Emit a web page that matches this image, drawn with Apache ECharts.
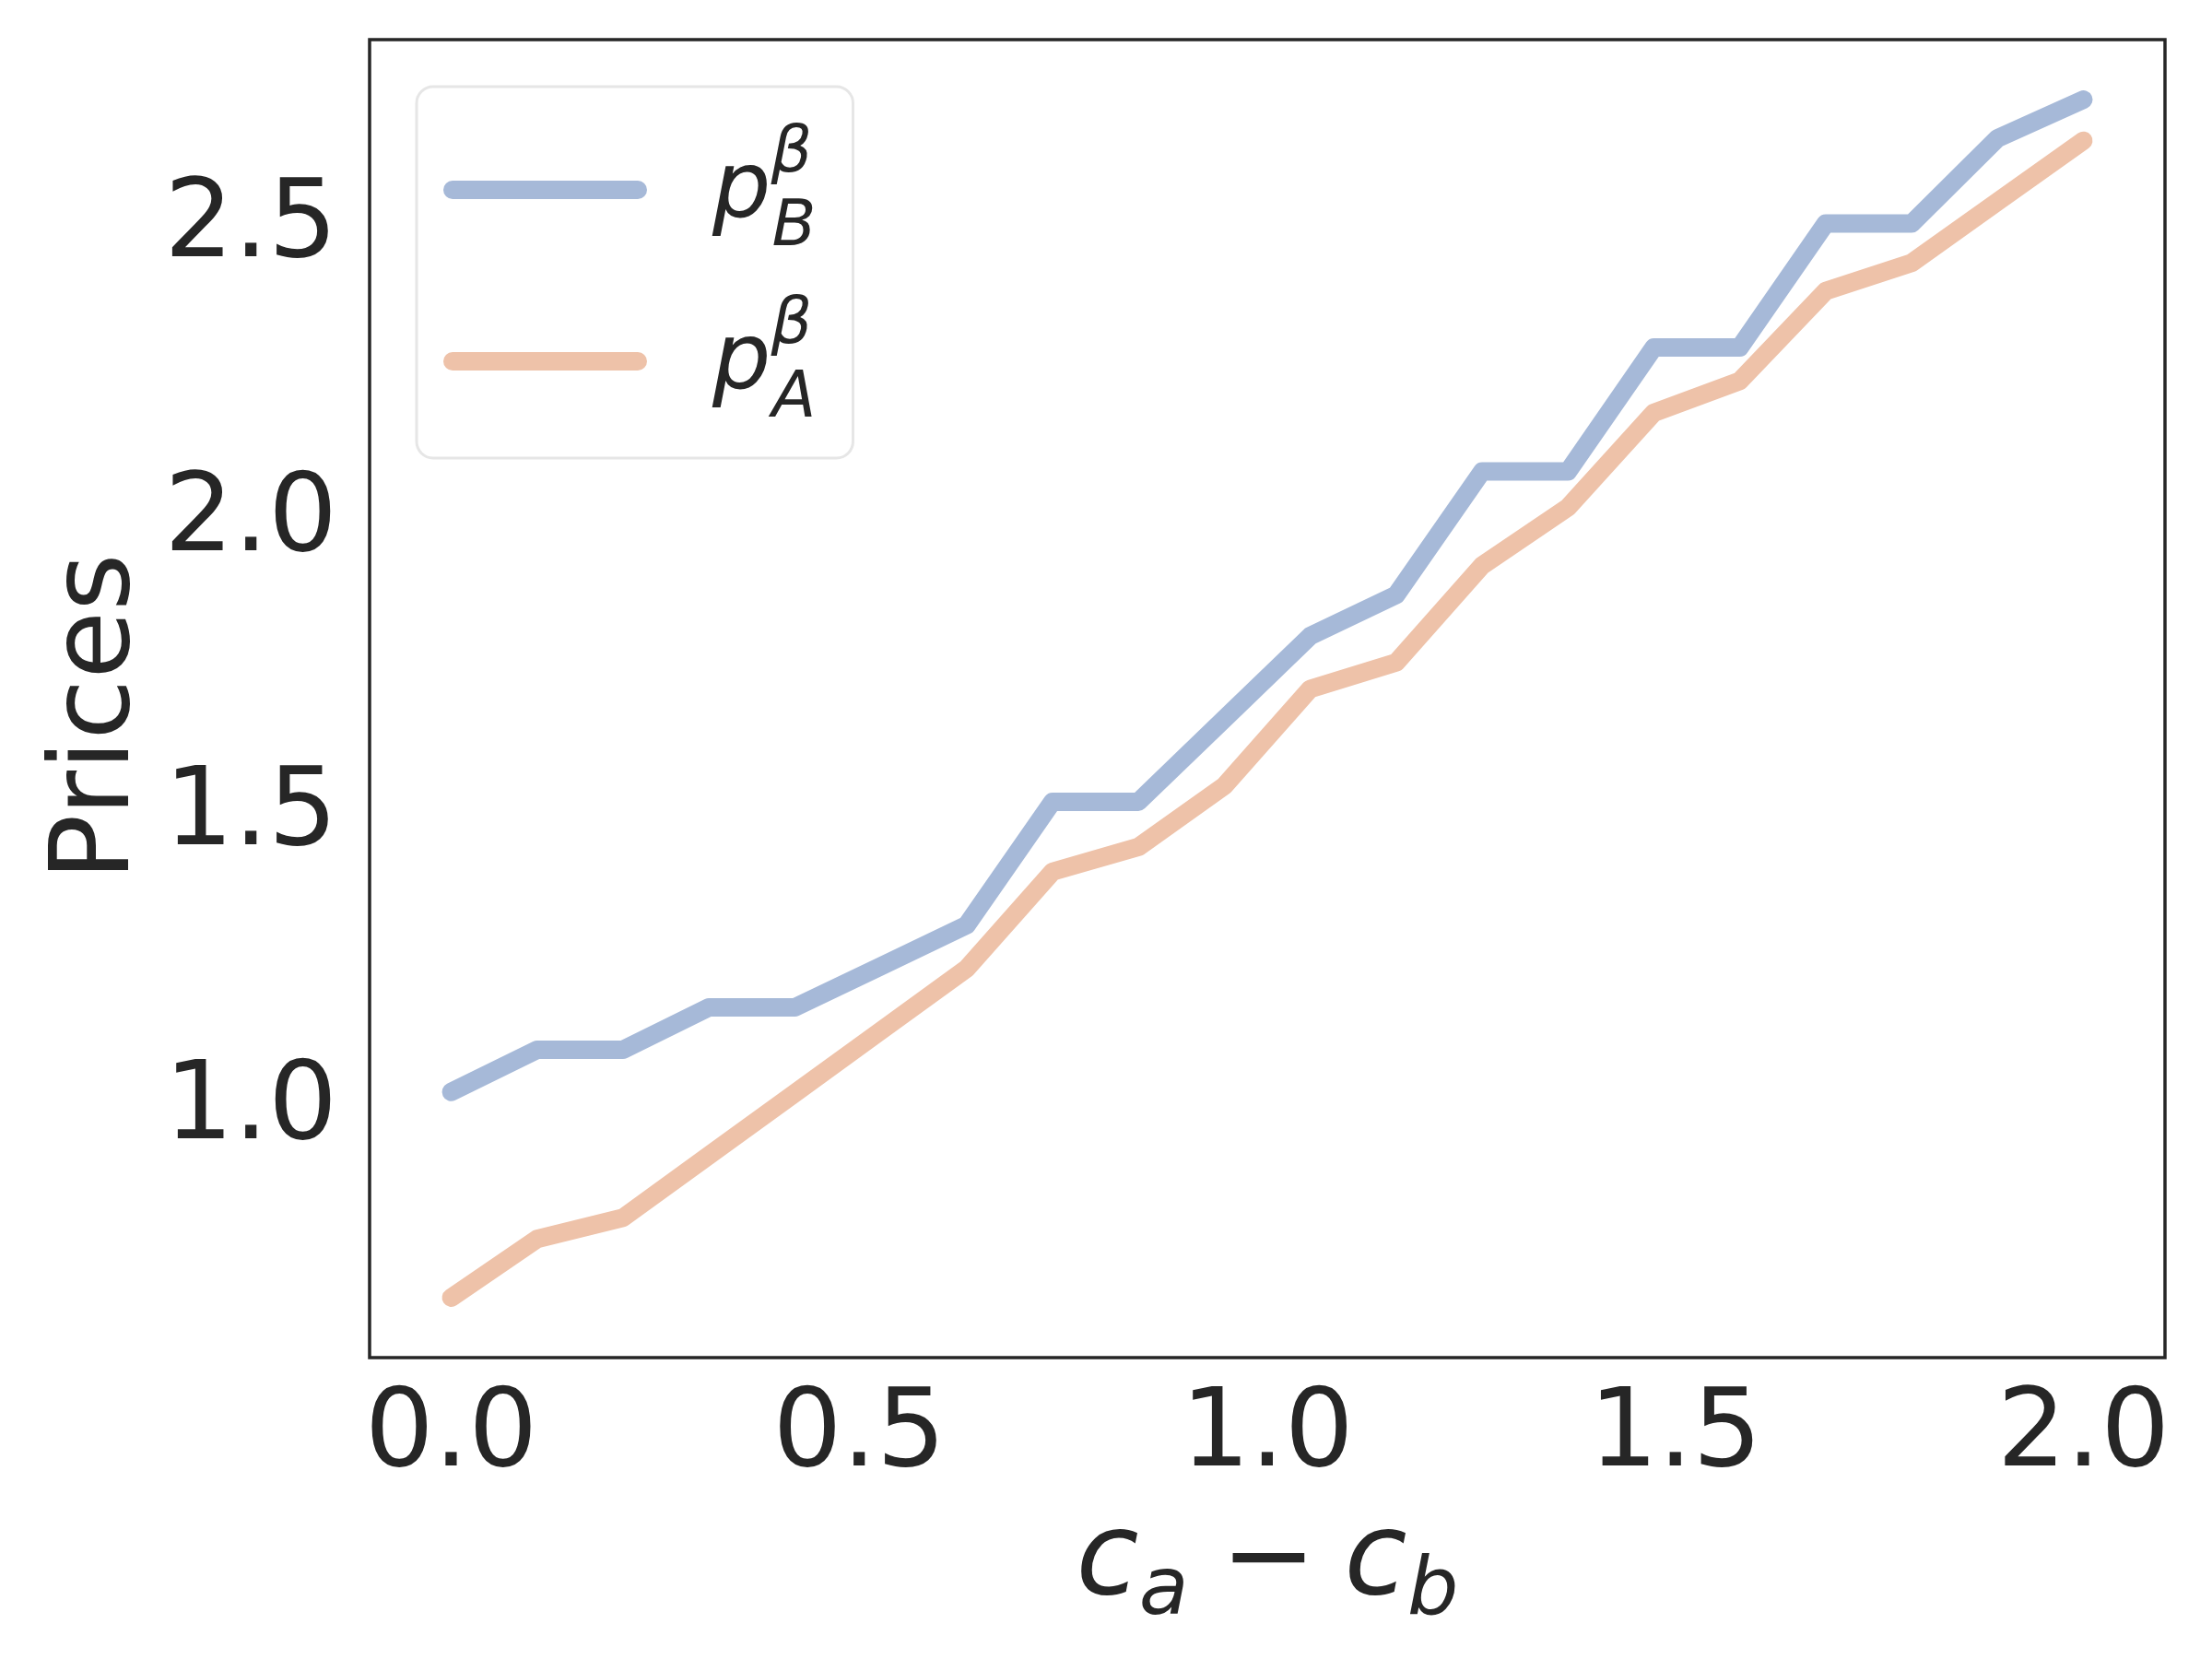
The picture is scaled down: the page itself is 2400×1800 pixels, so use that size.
<!DOCTYPE html>
<html>
<head>
<meta charset="utf-8">
<script src="https://cdn.jsdelivr.net/npm/echarts@6/dist/echarts.min.js"></script>
<style>
  html, body { margin: 0; padding: 0; background: #ffffff; }
  #chart { width: 2400px; height: 1800px; }
</style>
</head>
<body>
<div id="chart"></div>
<script>
// cost gap c_a - c_b (20 evenly spaced samples)
const costGap = [0, 0.1053, 0.2105, 0.3158, 0.4211, 0.5263, 0.6316, 0.7368, 0.8421, 0.9474,
  1.0526, 1.1579, 1.2632, 1.3684, 1.4737, 1.5789, 1.6842, 1.7895, 1.8947, 2.0];

const priceB = [1.030, 1.102, 1.102, 1.174, 1.174, 1.244, 1.314, 1.524, 1.524, 1.665,
  1.806, 1.876, 2.086, 2.086, 2.297, 2.297, 2.508, 2.508, 2.653, 2.719];

const priceA = [0.680, 0.780, 0.816, 0.922, 1.028, 1.134, 1.240, 1.405, 1.447, 1.551,
  1.716, 1.761, 1.926, 2.025, 2.186, 2.240, 2.393, 2.441, 2.545, 2.649];

const xTicks = [0, 0.5, 1.0, 1.5, 2.0];
const yTicks = [1.0, 1.5, 2.0, 2.5];

const TEXT = "#262626";
const FONT = "DejaVu Sans";
const BLUE = "#a6b9d8";
const ORANGE = "#eec2a9";

function pairs(xs, ys) {
  return xs.map((x, i) => [x, ys[i]]);
}

// rounded stroke used as legend handle, same size as the icon box
const legendIcon = "path://M10,0 L211,0 A10,10 0 0 1 211,20 L10,20 A10,10 0 0 1 10,0 Z";

// legend label p^beta_sub: one line, superscript and subscript pushed up/down
const LEG_LINE = 186;
const legendRich = {
  p: { fontSize: 100, fontStyle: "italic", fontFamily: FONT, color: TEXT,
    lineHeight: LEG_LINE, verticalAlign: "top", padding: [46, 0, 0, 66] },
  sup: { fontSize: 70, fontStyle: "italic", fontFamily: FONT, color: TEXT,
    lineHeight: LEG_LINE, verticalAlign: "top", padding: [20, 0, 0, 0], width: 1 },
  sub: { fontSize: 70, fontStyle: "italic", fontFamily: FONT, color: TEXT,
    lineHeight: LEG_LINE, verticalAlign: "bottom", padding: [0, 0, 16, 0] },
};

const chart = echarts.init(document.getElementById("chart"), null, { renderer: "canvas" });

chart.setOption({
  animation: false,
  backgroundColor: "#ffffff",
  grid: {
    left: 401, right: 51, top: 43, bottom: 327,
    containLabel: false,
    outerBoundsMode: "none",
    show: true,
    borderColor: TEXT,
    borderWidth: 3.5,
    backgroundColor: "transparent",
  },
  legend: {
    left: 452,
    top: 94,
    orient: "vertical",
    padding: [19, 40, 12, 29],
    itemGap: 0,
    itemWidth: 221,
    itemHeight: 20,
    icon: legendIcon,
    backgroundColor: "#ffffff",
    borderColor: "#e6e6e6",
    borderWidth: 3,
    borderRadius: 18,
    data: [
      { name: "pB", itemStyle: { color: BLUE } },
      { name: "pA", itemStyle: { color: ORANGE } },
    ],
    formatter: (name) => {
      const sub = name === "pB" ? "B" : "A";
      return `{p|p}{sup|β}{sub|${sub}}`;
    },
    textStyle: {
      color: TEXT,
      fontFamily: FONT,
      rich: legendRich,
    },
  },
  xAxis: {
    type: "value",
    min: -0.1,
    max: 2.1,
    name: "{c|c}{s|a}{op|−}{c|c}{s|b}",
    nameLocation: "middle",
    nameGap: 149,
    nameTextStyle: {
      color: TEXT,
      fontFamily: FONT,
      rich: {
        c: { fontSize: 124, fontStyle: "italic", fontFamily: FONT, color: TEXT,
          lineHeight: 150, verticalAlign: "middle" },
        s: { fontSize: 88, fontStyle: "italic", fontFamily: FONT, color: TEXT,
          lineHeight: 91, verticalAlign: "bottom" },
        op: { fontSize: 124, fontFamily: FONT, color: TEXT,
          lineHeight: 150, verticalAlign: "middle", padding: [0, 30, 0, 35] },
      },
    },
    axisLine: { show: false },
    axisTick: { show: false },
    splitLine: { show: false },
    axisLabel: {
      customValues: xTicks,
      formatter: (v) => v.toFixed(1),
      color: TEXT,
      fontFamily: FONT,
      fontSize: 118,
      lineHeight: 118,
      margin: 27,
    },
  },
  yAxis: {
    type: "value",
    min: 0.578,
    max: 2.821,
    name: "Prices",
    nameLocation: "middle",
    nameGap: 223,
    nameTextStyle: {
      color: TEXT,
      fontFamily: FONT,
      fontSize: 120,
      lineHeight: 120,
      padding: [0, 40, 0, 0],
    },
    axisLine: { show: false },
    axisTick: { show: false },
    splitLine: { show: false },
    axisLabel: {
      customValues: yTicks,
      formatter: (v) => v.toFixed(1),
      color: TEXT,
      fontFamily: FONT,
      fontSize: 118,
      lineHeight: 118,
      margin: 35,
      padding: [16, 0, 0, 0],
    },
  },
  series: [
    {
      name: "pB",
      type: "line",
      data: pairs(costGap, priceB),
      showSymbol: false,
      symbol: "none",
      color: BLUE,
      lineStyle: { color: BLUE, width: 20, cap: "round", join: "round" },
    },
    {
      name: "pA",
      type: "line",
      data: pairs(costGap, priceA),
      showSymbol: false,
      symbol: "none",
      color: ORANGE,
      lineStyle: { color: ORANGE, width: 20, cap: "round", join: "round" },
    },
  ],
});
</script>
</body>
</html>
